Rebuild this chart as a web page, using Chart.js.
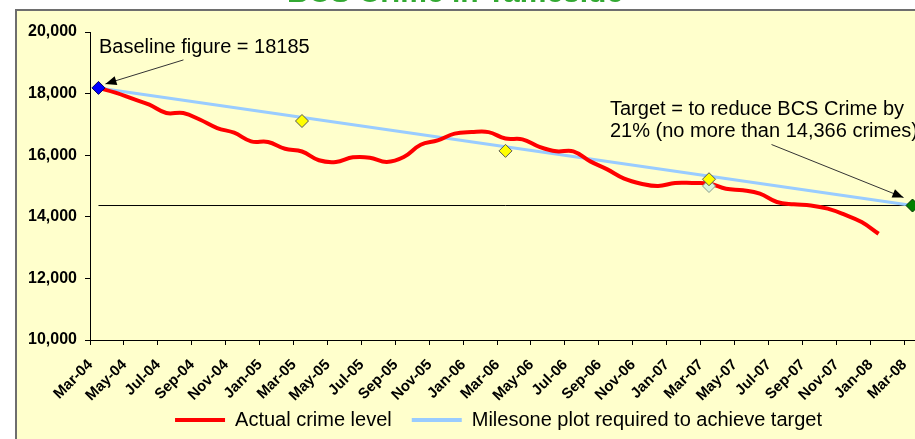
<!DOCTYPE html>
<html><head><meta charset="utf-8">
<script src="https://cdn.jsdelivr.net/npm/chart.js@4/dist/chart.umd.min.js"></script>
<style>
html,body{margin:0;padding:0;overflow:hidden;background:#fff;width:915px;height:439px}
#wrap{position:absolute;left:0;top:0;width:940px;height:470px}
</style>
</head><body><div id="wrap"><canvas id="c" width="940" height="470"></canvas></div>
<script>
const months = ['Mar-04','Apr-04','May-04','Jun-04','Jul-04','Aug-04','Sep-04','Oct-04','Nov-04','Dec-04',
  'Jan-05','Feb-05','Mar-05','Apr-05','May-05','Jun-05','Jul-05','Aug-05','Sep-05','Oct-05','Nov-05','Dec-05',
  'Jan-06','Feb-06','Mar-06','Apr-06','May-06','Jun-06','Jul-06','Aug-06','Sep-06','Oct-06','Nov-06','Dec-06',
  'Jan-07','Feb-07','Mar-07','Apr-07','May-07','Jun-07','Jul-07','Aug-07','Sep-07','Oct-07','Nov-07','Dec-07',
  'Jan-08','Feb-08','Mar-08'];

const actualCrime = [18185,18030,17835,17640,17370,17370,17150,16880,16730,16450,
  16430,16210,16120,15835,15780,15930,15920,15780,15940,16340,16480,16700,16750,16750,
  16540,16515,16270,16125,16125,15800,15540,15237,15075,15000,15097,15097,
  15080,14910,14860,14750,14480,14405,14370,14265,14070,13830,13450];

const baselineMonth = 'Mar-04';
const baselineValue = 18185;
const targetMonth = 'Mar-08';
const targetValue = 14366;

const milestoneMonths = ['Mar-05','Mar-06','Mar-07'];
const milestoneValues = [17110,16140,15220];

const checkMonths = ['Mar-07'];
const checkValues = [15000];

const yTicks = [10000,12000,14000,16000,18000,20000];

const FONT = '"Liberation Sans", Arial, sans-serif';

const decor = {
  id: 'decor',
  afterLayout(chart) {
    const lg = chart.legend;
    if (lg) { lg.left -= 7; lg.right -= 7; lg.top -= 30; lg.bottom -= 30; }
  },
  beforeDraw(chart) {
    const ctx = chart.ctx;
    ctx.save();
    ctx.fillStyle = '#ffffff';
    ctx.fillRect(0, 0, chart.width, chart.height);
    ctx.fillStyle = '#FFFFCC';
    ctx.fillRect(16, 10, chart.width, chart.height);
    ctx.strokeStyle = '#6e6e6e';
    ctx.lineWidth = 2;
    ctx.beginPath();
    ctx.moveTo(16, chart.height);
    ctx.lineTo(16, 10);
    ctx.lineTo(chart.width, 10);
    ctx.stroke();
    ctx.fillStyle = '#33A933';
    ctx.font = 'bold 30px ' + FONT;
    ctx.textAlign = 'center';
    ctx.textBaseline = 'alphabetic';
    ctx.fillText('BCS Crime in Tameside', 455, 2);
    ctx.restore();
  },
  afterDraw(chart) {
    const ctx = chart.ctx;
    const xs = chart.scales.x, ys = chart.scales.y;
    ctx.save();
    ctx.fillStyle = '#000';
    ctx.font = '20px ' + FONT;
    ctx.textAlign = 'left';
    ctx.textBaseline = 'alphabetic';
    ctx.fillText('Baseline figure = ' + baselineValue, 99, 53);
    ctx.fillText('Target = to reduce BCS Crime by', 610, 115);
    ctx.fillText('21% (no more than 14,366 crimes)', 610, 137);
    function arrow(x1, y1, x2, y2) {
      ctx.strokeStyle = '#333';
      ctx.lineWidth = 1;
      ctx.beginPath(); ctx.moveTo(x1, y1); ctx.lineTo(x2, y2); ctx.stroke();
      const a = Math.atan2(y2 - y1, x2 - x1), L = 11, W = 4.5;
      ctx.fillStyle = '#000';
      ctx.beginPath();
      ctx.moveTo(x2, y2);
      ctx.lineTo(x2 - L*Math.cos(a) + W*Math.sin(a), y2 - L*Math.sin(a) - W*Math.cos(a));
      ctx.lineTo(x2 - L*Math.cos(a) - W*Math.sin(a), y2 - L*Math.sin(a) + W*Math.cos(a));
      ctx.closePath(); ctx.fill();
    }
    const bx = xs.getPixelForValue(months.indexOf(baselineMonth)), by = ys.getPixelForValue(baselineValue);
    arrow(bx + 85, by - 28, bx + 7, by - 4);
    const gx = xs.getPixelForValue(months.indexOf(targetMonth)), gy = ys.getPixelForValue(targetValue);
    arrow(gx - 141, gy - 61, gx - 9, gy - 8);
    ctx.restore();
  }
};

const diamond = (data, fill, border, order) => ({
  label: '', data, showLine: false, pointStyle: 'rectRot', pointRadius: 6.5, pointHoverRadius: 6.5,
  pointBackgroundColor: fill, pointBorderColor: border, pointBorderWidth: 1, order
});

new Chart(document.getElementById('c'), {
  type: 'line',
  data: {
    labels: months,
    datasets: [
      { label: 'Actual crime level', data: actualCrime, borderColor: '#FF0000', backgroundColor: '#FF0000',
        borderWidth: 4, pointRadius: 0, tension: 0.4, order: 5 },
      { label: 'Milesone plot required to achieve target',
        data: [{x: baselineMonth, y: baselineValue}, {x: targetMonth, y: targetValue}],
        borderColor: '#99CCFF', backgroundColor: '#99CCFF', borderWidth: 3, pointRadius: 0, order: 6 },
      { label: 'target', data: [{x: baselineMonth, y: targetValue}, {x: targetMonth, y: targetValue}],
        borderColor: '#000', borderWidth: 1, pointRadius: 0, order: 7 },
      diamond(checkMonths.map((m, i) => ({x: m, y: checkValues[i]})), '#D8F5DC', '#8a9a8a', 2),
      diamond(milestoneMonths.map((m, i) => ({x: m, y: milestoneValues[i]})), '#FFFF00', '#555', 1),
      diamond([{x: baselineMonth, y: baselineValue}], '#0000FF', '#000066', 0),
      diamond([{x: targetMonth, y: targetValue}], '#008000', '#003300', 0)
    ]
  },
  options: {
    responsive: false,
    animation: false,
    layout: { padding: { left: 0, right: 19, top: 32, bottom: 0 } },
    plugins: {
      title: { display: false },
      tooltip: { enabled: false },
      legend: {
        position: 'bottom',
        fullSize: false,
        labels: {
          boxWidth: 50, boxHeight: 4, padding: 20, color: '#000',
          font: { family: FONT, size: 20 },
          filter: (item) => item.datasetIndex < 2,
          generateLabels(chart) {
            return Chart.defaults.plugins.legend.labels.generateLabels(chart).map(it => ({...it, lineWidth: 0}));
          }
        }
      }
    },
    scales: {
      x: {
        type: 'category',
        offset: true,
        grid: { offset: true, drawOnChartArea: false, tickLength: 5, tickWidth: 1,
          color: (c) => (c.index % 2 === 0 ? '#000' : 'rgba(0,0,0,0)') },
        border: { color: '#000', width: 1 },
        ticks: {
          autoSkip: false, maxRotation: 45, minRotation: 45, padding: 11, labelOffset: -8,
          color: '#000', font: { family: FONT, size: 15, weight: 'bold' },
          callback: function (v, i) { return i % 2 === 0 ? this.getLabelForValue(v) : ''; }
        },
        afterFit: (s) => { s.height = 80; s.paddingLeft = 0; s.paddingRight = 0; }
      },
      y: {
        min: yTicks[0], max: yTicks[yTicks.length - 1],
        afterBuildTicks: (s) => { s.ticks = yTicks.map(v => ({value: v})); },
        grid: { drawOnChartArea: false, tickLength: 5, color: '#000' },
        border: { color: '#000', width: 1 },
        ticks: {
          padding: 8, color: '#000', font: { family: FONT, size: 16, weight: 'bold' },
          callback: (v) => v.toLocaleString('en-US')
        },
        afterFit: (s) => { s.width = 90; s.paddingTop = 0; s.paddingBottom = 0; }
      }
    }
  },
  plugins: [decor]
});
</script>
</body></html>
